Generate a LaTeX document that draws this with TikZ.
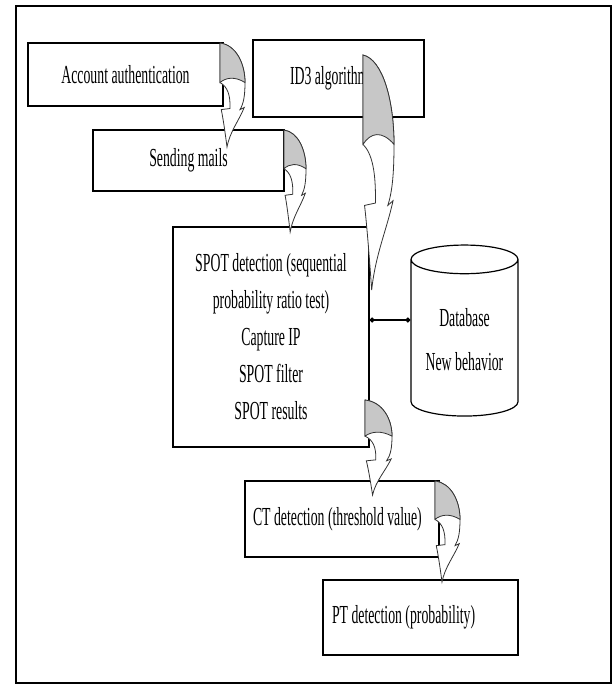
\documentclass[tikz,border=0pt]{standalone}
\usepackage{fontspec}
\setmainfont{Liberation Serif}[FakeStretch=0.53]
\usetikzlibrary{shapes.geometric,arrows.meta}

\tikzset{
	box/.style={draw,line width=1.2,fill=white,inner sep=0pt,font=\fontsize{26}{37}\selectfont},
	linkarrow/.style={line width=1.2,{Circle[length=5pt]}-{Circle[length=5pt]}}
}

% curved band arrow: start x, start y, bulge width, height
\newcommand{\bentarrow}[4]{%
	\begin{scope}[shift={(#1,#2)},x=#3pt,y=-#4pt,line width=0.8,draw=black!80]
		\filldraw[fill=white] (0,0) .. controls (0.65,0.02) and (1,0.2) .. (1,0.38)
			.. controls (1,0.5) and (0.95,0.58) .. (0.8,0.64) -- (0.97,0.62)
			.. controls (0.75,0.75) and (0.4,0.85) .. (0.28,1)
			.. controls (0.2,0.85) and (0.12,0.72) .. (0.05,0.64) -- (0.4,0.63)
			.. controls (0.42,0.5) and (0.3,0.42) .. (0,0.38) -- cycle;
		\filldraw[fill=black!22] (0,0) .. controls (0.65,0.02) and (1,0.2) .. (1,0.38)
			.. controls (0.6,0.32) and (0.25,0.33) .. (0,0.38) -- cycle;
	\end{scope}}

\begin{document}
\begin{tikzpicture}[x=1pt,y=-1pt]

\useasboundingbox (0,0) rectangle (613,686);
\draw[line width=1.2] (16,6) rectangle (611,683);

\node[box,minimum width=195,minimum height=63] (auth) at (125.5,74.5) {Account authentication};
\node[box,inner xsep=37,minimum height=77] (id3) at (338.5,78.5) {\makebox[97pt][l]{ID3 algorithm}};
\node[box,minimum width=191,minimum height=61] (mails) at (188.5,160.5) {Sending mails};
\node[box,minimum width=196,minimum height=220,align=center] (spot) at (271,337)
	{SPOT detection (sequential\\probability ratio test)\\Capture IP\\SPOT filter\\SPOT results};
\node[box,inner xsep=8,minimum height=76] (ct) at (342,519) {\makebox[178pt][l]{CT detection (threshold value)}};
\node[box,inner xsep=9,minimum height=75] (pt) at (420.5,617.5) {\makebox[177pt][l]{PT detection (probability)}};

\node[cylinder,shape border rotate=90,draw,line width=1.2,aspect=4.3,minimum width=107,minimum height=171] (db) at (464.5,340.5) {};
\node[align=center,font=\fontsize{26}{44}\selectfont] (dbtext) at (464.5,340) {Database\\New behavior};

\draw[linkarrow] ([yshift=17pt]spot.east) coordinate (lnk) -- (lnk -| db.west);

\foreach \ax/\ay/\aw/\ah in {220/43/25/104,363/55/31/235,284/130/22/102,365/400/27/95,435/481/25/101} {
	\bentarrow{\ax}{\ay}{\aw}{\ah}
}

\end{tikzpicture}
\end{document}
